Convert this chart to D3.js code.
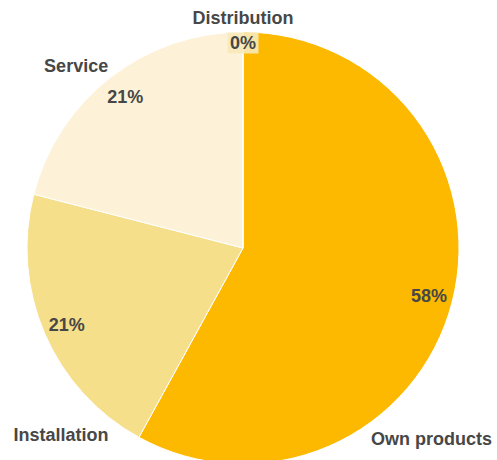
<!DOCTYPE html>
<html>
<head>
<meta charset="utf-8">
<script src="https://cdn.jsdelivr.net/npm/d3@7"></script>
<style>
  html, body { margin: 0; padding: 0; background: #fff; }
  svg { display: block; }
  text { font-family: "Liberation Sans", Arial, sans-serif; font-weight: bold; fill: #474747; }
</style>
</head>
<body>
<svg id="chart" width="497" height="460"></svg>
<script>
// Revenue split by business line
const categories = ["Own products", "Installation", "Service", "Distribution"];
const shares = [58, 21, 21, 0];
const colors = ["#FDB900", "#F6DF8A", "#FDF2D7", "#FCE9B0"];

// Where each category name sits: angle (degrees clockwise from 12 o'clock) and distance from centre
const nameAnchors = {
  "Own products": { angle: 135.3, dist: 268 },
  "Installation": { angle: 224.2, dist: 261 },
  "Service": { angle: 317.5, dist: 247 },
  "Distribution": { angle: 0, dist: 230 }
};

const width = 497, height = 460;
const cx = 243, cy = 248, radius = 216, labelRadius = 192;
const fontSize = 18;

const svg = d3.select("#chart");
const g = svg.append("g").attr("transform", `translate(${cx},${cy})`);

const data = categories.map((c, i) => ({ name: c, value: shares[i], color: colors[i] }));

const pie = d3.pie().value(d => d.value).sort(null);
const arcs = pie(data);

const arc = d3.arc().innerRadius(0).outerRadius(radius);
const labelArc = d3.arc().innerRadius(labelRadius).outerRadius(labelRadius);

g.selectAll("path.slice")
  .data(arcs)
  .join("path")
  .attr("class", "slice")
  .attr("d", arc)
  .attr("fill", d => d.data.color)
  .attr("stroke", "#fff")
  .attr("stroke-width", 1);

// Percentage labels inside the slices
const pct = g.selectAll("g.pct")
  .data(arcs)
  .join("g")
  .attr("class", "pct")
  .attr("transform", d => {
    let [x, y] = labelArc.centroid(d);
    if (d.data.value === 0) { x = 0; y = -(radius - 11); }
    return `translate(${x},${y})`;
  });

pct.filter(d => d.data.value === 0)
  .append("rect")
  .attr("x", -15.5).attr("y", -10.5)
  .attr("width", 31).attr("height", 21)
  .attr("fill", "#F7E9B9")
  .attr("opacity", 0.9);

pct.append("text")
  .attr("text-anchor", "middle")
  .attr("dy", "0.35em")
  .attr("font-size", fontSize)
  .text(d => `${d3.format(".0f")(d.data.value)}%`);

// Category names outside the pie
g.selectAll("text.name")
  .data(arcs)
  .join("text")
  .attr("class", "name")
  .attr("text-anchor", "middle")
  .attr("dy", "0.35em")
  .attr("font-size", fontSize)
  .attr("x", d => {
    const a = nameAnchors[d.data.name];
    return Math.sin(a.angle * Math.PI / 180) * a.dist;
  })
  .attr("y", d => {
    const a = nameAnchors[d.data.name];
    return -Math.cos(a.angle * Math.PI / 180) * a.dist;
  })
  .text(d => d.data.name);
</script>
</body>
</html>
